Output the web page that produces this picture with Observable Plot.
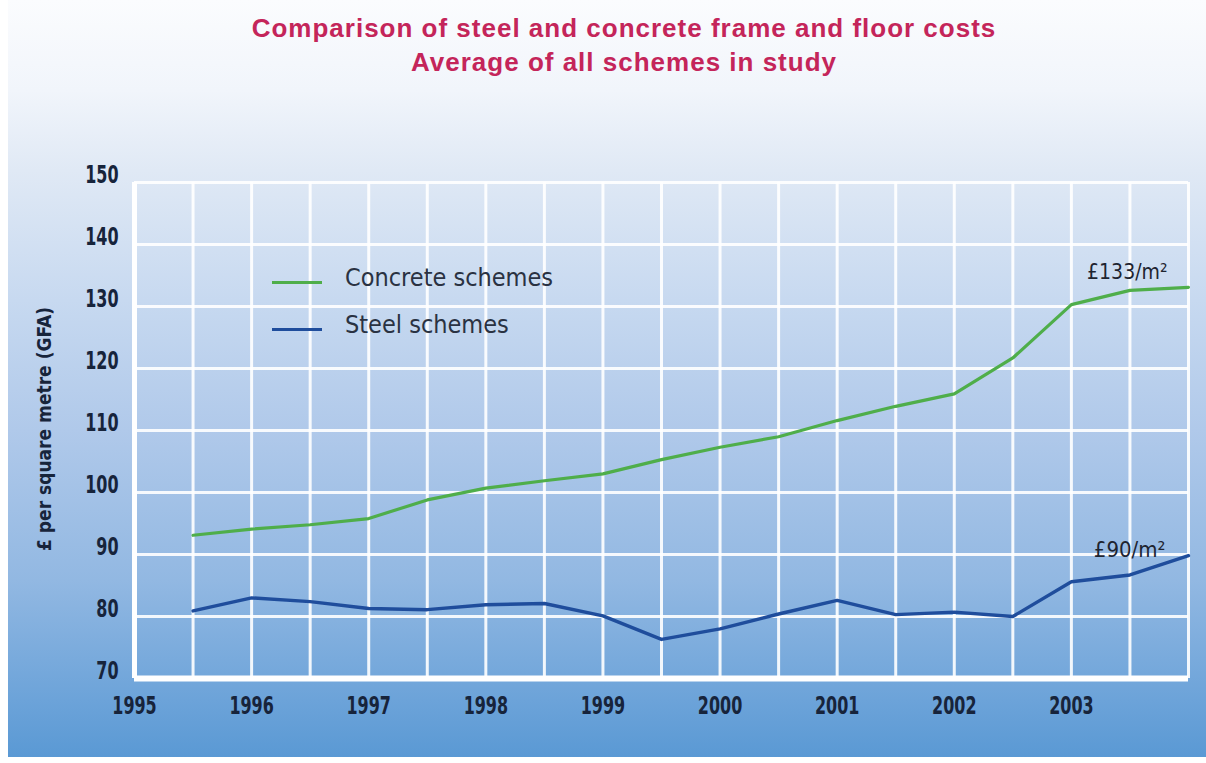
<!DOCTYPE html>
<html>
<head>
<meta charset="utf-8">
<script src="https://cdn.jsdelivr.net/npm/d3@7"></script>
<script src="https://cdn.jsdelivr.net/npm/@observablehq/plot@0.6"></script>
<style>
  html, body { margin: 0; padding: 0; background: #ffffff; }
  #page { position: relative; width: 1206px; height: 763px; overflow: hidden; background: #ffffff; }
  #bg { position: absolute; left: 8px; top: 0; width: 1198px; height: 757px;
        background: linear-gradient(to bottom, #fbfcfe 0px, #f1f5fb 90px, #e0e9f5 170px, #c7d9f0 300px, #b0c9ea 430px, #92b8e2 580px, #6ca3d9 700px, #5a99d4 757px); }
  #title { position: relative; height: 100px; text-align: center; color: #c4255a;
           font-family: "Liberation Sans", Arial, sans-serif; font-weight: bold; font-size: 26px;
           line-height: 34px; padding-top: 11px; padding-left: 42px; box-sizing: border-box; letter-spacing: 1px; }
  #chart { position: relative; }
  .leg { position: absolute; font-family: "DejaVu Sans Condensed", "DejaVu Sans", sans-serif;
         font-size: 25px; color: #2a3242; line-height: 30px; }
  .legline { position: absolute; height: 3px; width: 50px; }
  #ylabel { position: absolute; left: 44px; top: 429px; transform: translate(-50%, -50%) rotate(-90deg);
            white-space: nowrap; font-family: "DejaVu Sans Condensed", "DejaVu Sans", sans-serif;
            font-weight: bold; font-size: 19px; color: #17243b; }
</style>
</head>
<body>
<div id="page">
  <div id="bg"></div>
  <div id="title">Comparison of steel and concrete frame and floor costs<br>Average of all schemes in study</div>
  <div id="chart"></div>
  <div id="ylabel">£ per square metre (GFA)</div>
  <div class="legline" style="left:272px; top:281px; background:#4fae4a;"></div>
  <div class="leg" style="left:345px; top:263px;">Concrete schemes</div>
  <div class="legline" style="left:272px; top:328px; background:#1f4d9c;"></div>
  <div class="leg" style="left:345px; top:310px;">Steel schemes</div>
</div>
<script>
// Data
const periods = [1995.5, 1996, 1996.5, 1997, 1997.5, 1998, 1998.5, 1999, 1999.5, 2000, 2000.5, 2001, 2001.5, 2002, 2002.5, 2003, 2003.5, 2004];
const concrete = [93.1, 94.1, 94.8, 95.8, 98.8, 100.7, 101.9, 103.0, 105.3, 107.3, 109.0, 111.6, 113.9, 115.9, 121.7, 130.3, 132.6, 133.1];
const steel = [80.9, 83.0, 82.4, 81.3, 81.1, 81.9, 82.1, 80.1, 76.3, 78.0, 80.4, 82.6, 80.3, 80.7, 80.0, 85.6, 86.7, 89.8];
const xTicks = [1995, 1996, 1997, 1998, 1999, 2000, 2001, 2002, 2003];
const yTicks = [70, 80, 90, 100, 110, 120, 130, 140, 150];
const xGrid = [1995, 1995.5, 1996, 1996.5, 1997, 1997.5, 1998, 1998.5, 1999, 1999.5, 2000, 2000.5, 2001, 2001.5, 2002, 2002.5, 2003, 2003.5, 2004];
const concreteEnd = [{x: 2004, y: 133.1, text: "£133/m²"}];
const steelEnd = [{x: 2004, y: 89.8, text: "£90/m²"}];

const concreteData = periods.map((p, i) => ({x: p, y: concrete[i]}));
const steelData = periods.map((p, i) => ({x: p, y: steel[i]}));

const cond = "'DejaVu Sans Condensed', 'DejaVu Sans', sans-serif";

const chart = Plot.plot({
  width: 1206,
  height: 663,
  marginTop: 82,
  marginBottom: 85,
  marginLeft: 134,
  marginRight: 18,
  style: {background: "transparent", overflow: "visible"},
  x: {domain: [1995, 2004]},
  y: {domain: [70, 150]},
  marks: [
    Plot.ruleX(xGrid, {x: d => d, stroke: "#ffffff", strokeWidth: 3, strokeOpacity: 0.9}),
    Plot.ruleY(yTicks, {y: d => d, stroke: "#ffffff", strokeWidth: 3, strokeOpacity: 0.9}),
    Plot.ruleX([1995], {x: d => d, stroke: "#ffffff", strokeWidth: 5}),
    Plot.ruleY([70], {y: d => d, stroke: "#ffffff", strokeWidth: 6}),
    Plot.axisX(xTicks, {tickSize: 0, tickPadding: 18, tickFormat: d => String(d), fontSize: 25, fontFamily: cond, fontWeight: "bold", fill: "#17243b", label: null}),
    Plot.axisY(yTicks, {tickSize: 0, tickPadding: 16, dy: -8, fontSize: 25, fontFamily: cond, fontWeight: "bold", fill: "#17243b", label: null}),
    Plot.line(concreteData, {x: "x", y: "y", stroke: "#4fae4a", strokeWidth: 3.2}),
    Plot.line(steelData, {x: "x", y: "y", stroke: "#1f4d9c", strokeWidth: 3.4}),
    Plot.text(concreteEnd, {x: "x", y: "y", text: "text", textAnchor: "end", dx: -21, dy: -15, fontSize: 21, fontFamily: cond, fill: "#1e2430"}),
    Plot.text(steelEnd, {x: "x", y: "y", text: "text", textAnchor: "end", dx: -23, dy: -6, fontSize: 22, fontFamily: cond, fill: "#1e2430"})
  ]
});
// narrow the tick labels to imitate the condensed typeface of the original
d3.select(chart).selectAll("g[aria-label='x-axis tick label'] text, g[aria-label='y-axis tick label'] text")
  .attr("transform", function() { return (this.getAttribute("transform") || "") + " scale(0.71,1)"; });
document.getElementById("chart").appendChild(chart);
</script>
</body>
</html>
